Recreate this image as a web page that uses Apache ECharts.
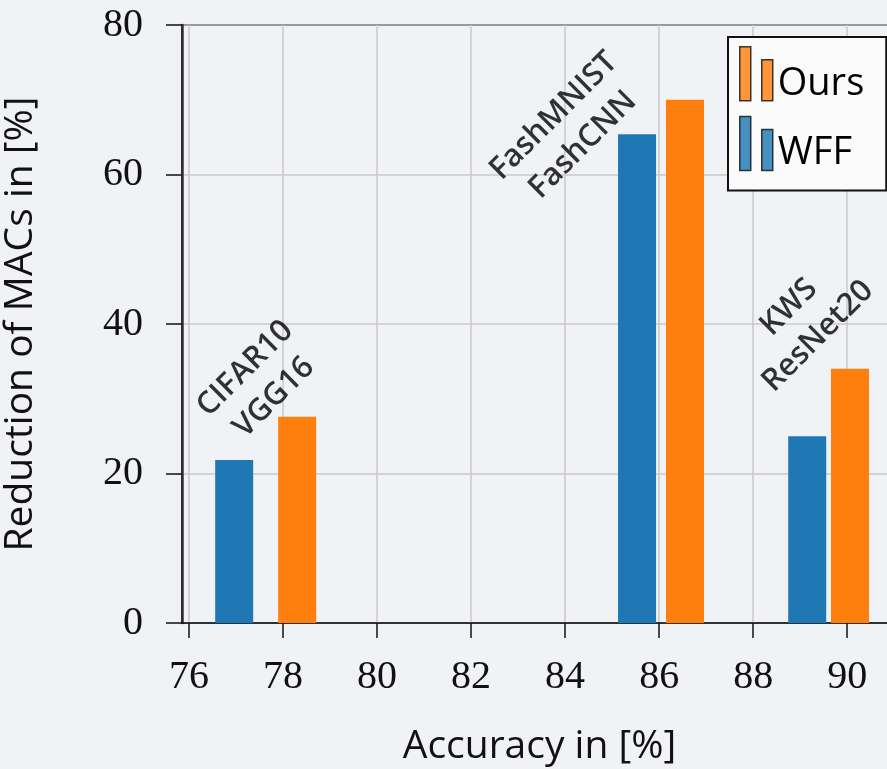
<!DOCTYPE html>
<html>
<head>
<meta charset="utf-8">
<script src="https://cdn.jsdelivr.net/npm/echarts@6/dist/echarts.min.js"></script>
<style>
html,body{margin:0;padding:0;background:#f1f2f5;}
#chart{width:887px;height:769px;}
</style>
</head>
<body>
<div id="chart"></div>
<script>
// ---- data ----
var seriesNames = ['Ours', 'WFF'];
var wffAccuracy = [76.96, 85.53, 89.15];
var wffReduction = [21.8, 65.4, 25.0];
var oursAccuracy = [78.3, 86.55, 90.06];
var oursReduction = [27.6, 70.0, 34.0];
var annoLabels = ['CIFAR10\nVGG16', 'FashMNIST\nFashCNN', 'KWS\nResNet20'];
var annoX = [77.5, 84.07, 89.07];
var annoY = [32.1, 65.9, 40.3];
var xTicks = [76, 78, 80, 82, 84, 86, 88, 90];

function pairs(xs, ys) { return xs.map(function (x, i) { return [x, ys[i]]; }); }

var chart = echarts.init(document.getElementById('chart'));
var serif = 'Liberation Serif';
var sans = 'Open Sans';
chart.setOption({
  backgroundColor: '#f1f2f5',
  animation: false,
  grid: { left: 182, right: -10, top: 25, bottom: 146, outerBoundsMode: 'none', containLabel: false,
    show: true, borderColor: '#111', borderWidth: 2, backgroundColor: 'transparent' },
  legend: {
    data: seriesNames,
    orient: 'vertical',
    left: 728, top: 37,
    backgroundColor: '#fbfbfb',
    borderColor: '#111', borderWidth: 2, borderRadius: 0,
    padding: [9, 22, 18, 11],
    itemGap: 13,
    itemWidth: 33, itemHeight: 54,
    icon: 'path://M0,0 H11 V54 H0 Z M22,13 H33 V54 H22 Z',
    itemStyle: { borderColor: '#111', borderWidth: 1.5, opacity: 0.82 },
    formatter: '{t|{name}}',
    textStyle: { fontFamily: sans, fontSize: 38, color: '#000',
      rich: { t: { fontFamily: sans, fontSize: 38, color: '#000', padding: [20, 0, 0, 0] } } }
  },
  xAxis: {
    type: 'value', min: 75.85, max: 91.06,
    name: 'Accuracy in [%]', nameLocation: 'middle', nameGap: 104,
    nameTextStyle: { fontFamily: sans, fontSize: 39, color: '#111' },
    axisLine: { show: true, lineStyle: { color: '#111', width: 1.5 } },
    axisTick: { show: true, inside: false, length: 15, customValues: xTicks, lineStyle: { color: '#111', width: 1.5 } },
    axisLabel: { customValues: xTicks, margin: 34, fontFamily: serif, fontSize: 40, color: '#111' },
    splitLine: { show: true, lineStyle: { color: '#c9c9c9', width: 1.5 } }
  },
  yAxis: {
    type: 'value', min: 0, max: 80, interval: 20,
    name: 'Reduction of MACs in [%]', nameLocation: 'middle', nameGap: 142,
    nameTextStyle: { fontFamily: sans, fontSize: 39, color: '#111' },
    axisLine: { show: true, lineStyle: { color: '#333', width: 2.5 } },
    axisTick: { show: true, inside: false, length: 16, lineStyle: { color: '#111', width: 1.5 } },
    axisLabel: { margin: 39, fontFamily: serif, fontSize: 40, color: '#111' },
    splitLine: { show: true, lineStyle: { color: '#c9c9c9', width: 1.5 } }
  },
  series: [
    { name: 'Ours', type: 'bar', barWidth: 38, barGap: '-100%', itemStyle: { color: '#ff7f0e' }, data: pairs(oursAccuracy, oursReduction), z: 3 },
    { name: 'WFF', type: 'bar', barWidth: 38, barGap: '-100%', itemStyle: { color: '#1f77b4' }, data: pairs(wffAccuracy, wffReduction), z: 3 },
    {
      name: 'annotations', type: 'scatter', symbolSize: 0, silent: true, z: 5,
      itemStyle: { color: '#000' },
      label: { show: true, position: 'inside', rotate: 45, align: 'center', verticalAlign: 'middle',
        fontFamily: sans, fontSize: 31, fontWeight: 600, lineHeight: 41, color: '#000', textBorderWidth: 0,
        formatter: function (p) { return p.name; } },
      data: annoLabels.map(function (t, i) { return { name: t, value: [annoX[i], annoY[i]] }; })
    }
  ]
});
</script>
</body>
</html>
